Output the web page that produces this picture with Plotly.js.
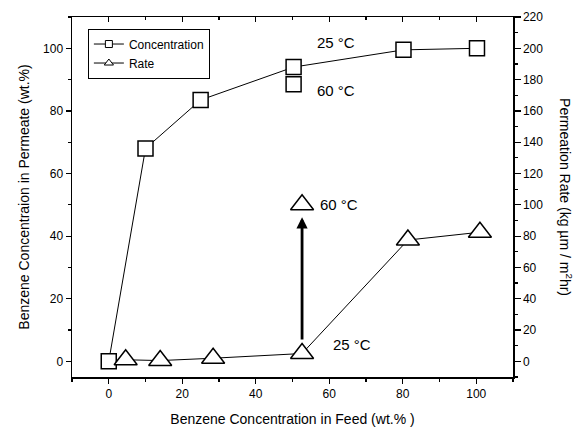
<!DOCTYPE html>
<html>
<head>
<meta charset="utf-8">
<script src="https://cdn.plot.ly/plotly-3.0.1.min.js"></script>
<style>html,body{margin:0;padding:0;background:#fff;}#chart{width:576px;height:428px;}</style>
</head>
<body>
<div id="chart"></div>
<script>
// Concentration (wt.% in permeate) vs feed concentration
const concFeed = [0, 10, 25, 50.3, 80.2, 100.2];
const concPerm = [0, 68, 83.5, 94, 99.5, 100];
// 60 °C concentration point
const conc60Feed = [50.3];
const conc60Perm = [88.5];
// Permeation rate (kg µm / m² hr)
const rateFeed = [4.6, 14, 28.4, 52.6, 81.4, 101];
const rateVal = [1, 0.5, 2, 5, 77.5, 82.5];
// 60 °C rate point
const rate60Feed = [52.6];
const rate60Val = [100];

const legendNames = ["Concentration", "Rate"];
const tempLabels = ["25 °C", "60 °C"];

const FONT = "Liberation Sans, Arial, Helvetica, sans-serif";

const traces = [
  {x: concFeed, y: concPerm, type: 'scatter', mode: 'lines+markers', yaxis: 'y', xaxis: 'x',
   line: {color: '#000', width: 1},
   marker: {symbol: 'square', size: 15, color: '#fff', line: {color: '#000', width: 1.5}},
   showlegend: false, hoverinfo: 'skip'},
  {x: conc60Feed, y: conc60Perm, type: 'scatter', mode: 'markers', yaxis: 'y', xaxis: 'x',
   marker: {symbol: 'square', size: 15, color: '#fff', line: {color: '#000', width: 1.5}},
   showlegend: false, hoverinfo: 'skip'},
  {x: rateFeed, y: rateVal, type: 'scatter', mode: 'lines+markers', yaxis: 'y2', xaxis: 'x',
   line: {color: '#000', width: 1},
   marker: {symbol: 'triangle-up', size: 20, color: '#fff', line: {color: '#000', width: 1.5}},
   showlegend: false, hoverinfo: 'skip'},
  {x: rate60Feed, y: rate60Val, type: 'scatter', mode: 'markers', yaxis: 'y2', xaxis: 'x',
   marker: {symbol: 'triangle-up', size: 20, color: '#fff', line: {color: '#000', width: 1.5}},
   showlegend: false, hoverinfo: 'skip'},
  // legend entries
  {x: [null], y: [null], type: 'scatter', mode: 'lines+markers', name: legendNames[0],
   line: {color: '#000', width: 1},
   marker: {symbol: 'square', size: 7, color: '#fff', line: {color: '#000', width: 1}}},
  {x: [null], y: [null], type: 'scatter', mode: 'lines+markers', name: legendNames[1],
   line: {color: '#000', width: 1},
   marker: {symbol: 'triangle-up', size: 8, color: '#fff', line: {color: '#000', width: 1}}},
  // top mirror axis carrier
  {x: [null], y: [null], type: 'scatter', mode: 'markers', xaxis: 'x2', yaxis: 'y',
   showlegend: false, hoverinfo: 'skip'}
];

const axisCommon = {
  showgrid: false, zeroline: false, showline: true, linecolor: '#000', linewidth: 1.5,
  tickcolor: '#000', tickwidth: 1.2, ticklen: 5,
  tickfont: {family: FONT, size: 12, color: '#000'}
};

const layout = {
  width: 576, height: 428,
  margin: {l: 72, r: 63, t: 17, b: 51},
  paper_bgcolor: '#fff', plot_bgcolor: '#fff',
  font: {family: FONT, color: '#000'},
  xaxis: Object.assign({}, axisCommon, {
    range: [-10, 110], dtick: 20, tick0: 0, ticks: 'outside',
    minor: {dtick: 10, ticks: 'outside', ticklen: 3, tickcolor: '#000'},
    title: {text: 'Benzene Concentration in Feed (wt.% )', font: {family: FONT, size: 14, color: '#000'}, standoff: 14}
  }),
  xaxis2: Object.assign({}, axisCommon, {
    range: [-10, 110], dtick: 20, tick0: 0, ticks: 'inside', overlaying: 'x', side: 'top',
    showticklabels: false,
    minor: {dtick: 10, ticks: 'inside', ticklen: 3, tickcolor: '#000'}
  }),
  yaxis: Object.assign({}, axisCommon, {
    range: [-5, 110], dtick: 20, tick0: 0, ticks: 'outside',
    minor: {dtick: 10, ticks: 'outside', ticklen: 3, tickcolor: '#000'},
    title: {text: 'Benzene Concentraion in Permeate (wt.%)', font: {family: FONT, size: 14, color: '#000'}, standoff: 10}
  }),
  yaxis2: Object.assign({}, axisCommon, {
    range: [-10, 220], dtick: 20, tick0: 0, ticks: 'outside', ticklen: 6, overlaying: 'y', side: 'right',
    minor: {dtick: 10, ticks: 'outside', ticklen: 3, tickcolor: '#000'}
  }),
  showlegend: true,
  legend: {
    x: 0.036, y: 0.968, xanchor: 'left', yanchor: 'top',
    bordercolor: '#000', borderwidth: 1, bgcolor: '#fff',
    font: {family: FONT, size: 12, color: '#000'},
    tracegroupgap: 0, itemwidth: 30
  },
  annotations: [
    {xref: 'x', yref: 'y', x: 56, y: 102, xanchor: 'left', text: tempLabels[0], showarrow: false, font: {family: FONT, size: 15, color: '#000'}},
    {xref: 'x', yref: 'y', x: 56, y: 86.5, xanchor: 'left', text: tempLabels[1], showarrow: false, font: {family: FONT, size: 15, color: '#000'}},
    {xref: 'x', yref: 'y2', x: 57, y: rate60Val[0], xanchor: 'left', text: tempLabels[1], showarrow: false, font: {family: FONT, size: 15, color: '#000'}},
    {xref: 'x', yref: 'y2', x: 60.5, y: 11, xanchor: 'left', text: tempLabels[0], showarrow: false, font: {family: FONT, size: 15, color: '#000'}},
    // arrow from 25 °C rate to 60 °C rate
    {xref: 'x', yref: 'y2', axref: 'x', ayref: 'y2',
     x: rate60Feed[0], y: rate60Val[0] - 8, ax: rateFeed[3], ay: rateVal[3] + 8,
     text: '', showarrow: true, arrowhead: 2, arrowsize: 0.8, arrowwidth: 2.8, arrowcolor: '#000'},
    // right axis title
    {xref: 'paper', yref: 'paper', x: 1.12, y: 0.5, xanchor: 'center', yanchor: 'middle',
     text: 'Permeation Rate (kg µm / m<sup>2</sup>hr)', textangle: 90, showarrow: false,
     font: {family: FONT, size: 14, color: '#000'}}
  ]
};

Plotly.newPlot('chart', traces, layout, {staticPlot: true, displayModeBar: false});
</script>
</body>
</html>
